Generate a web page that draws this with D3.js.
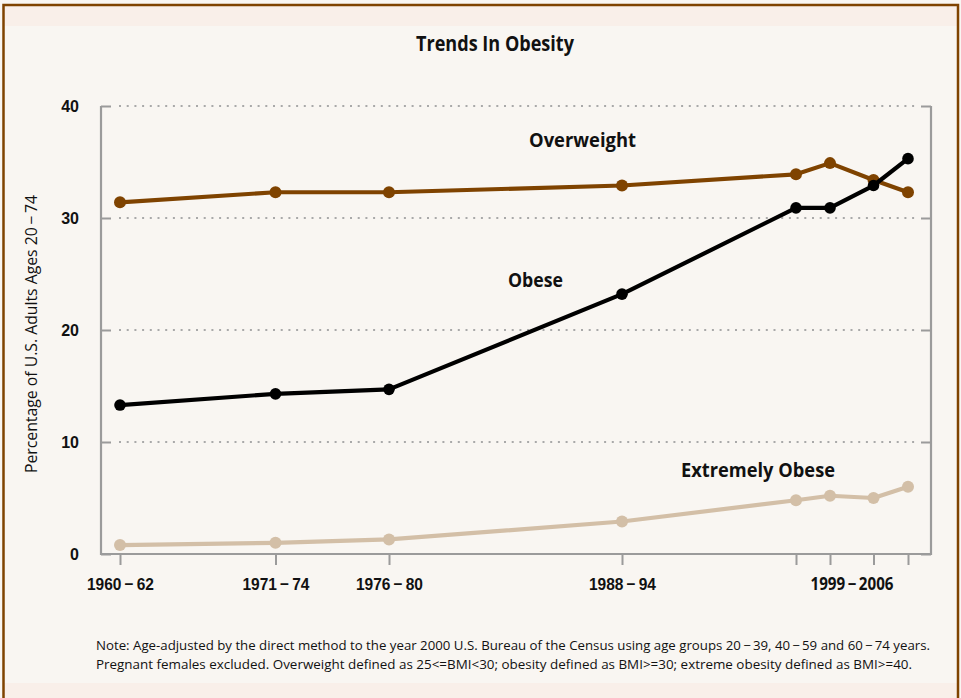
<!DOCTYPE html>
<html>
<head>
<meta charset="utf-8">
<script src="https://cdn.jsdelivr.net/npm/d3@7"></script>
<style>
  body { margin: 0; background: #fff; }
  svg { display: block; font-family: "Open Sans", "Noto Sans", sans-serif; }
</style>
</head>
<body>
<svg id="chart" width="961" height="698"></svg>
<script>
// survey periods (NHANES) and values
var surveys = ["1960-62", "1971-74", "1976-80", "1988-94", "1999-2000", "2001-02", "2003-04", "2005-06"];
var overweight = [31.4, 32.3, 32.3, 32.9, 33.9, 34.9, 33.4, 32.3];
var obese = [13.3, 14.3, 14.7, 23.2, 30.9, 30.9, 32.9, 35.3];
var extremelyObese = [0.8, 1.0, 1.3, 2.9, 4.8, 5.2, 5.0, 6.0];
var tickLabels = ["1960\u2009\u2212\u200962", "1971\u2009\u2212\u200974", "1976\u2009\u2212\u200980", "1988\u2009\u2212\u200994", "", "", "", ""];
var groupLabel = "1999\u2009\u2212\u20092006";
var yTicks = [0, 10, 20, 30, 40];

function draw() {
    var svg = d3.select("#chart");
    var W = 961, H = 698;
    var mLeft = 101, mRight = 931, mTop = 106, mBottom = 554;

    // background + frame
    svg.append("rect").attr("x", 0).attr("y", 0).attr("width", W).attr("height", H).attr("fill", "#f9f6f2");
    svg.append("rect").attr("x", 4).attr("y", 6).attr("width", 954).attr("height", 20).attr("fill", "#f9efe9");
    svg.append("rect").attr("x", 4).attr("y", 683).attr("width", 954).attr("height", 20).attr("fill", "#f9efe9");
    svg.append("rect")
        .attr("x", 3.5).attr("y", 5)
        .attr("width", 954.5).attr("height", 720)
        .attr("fill", "none")
        .attr("stroke", "#7f4300")
        .attr("stroke-width", 2.5);

    // uneven spacing of survey periods, as on the original
    var x = d3.scaleOrdinal()
        .domain(surveys)
        .range([120, 275.5, 389, 622, 796, 830, 873.5, 908]);

    var y = d3.scaleLinear().domain([0, 40]).range([mBottom, mTop]);

    var axisColor = "#9b9b9b";

    // dotted gridlines
    svg.append("g").selectAll("line")
        .data(yTicks.filter(function(d) { return d > 0; }))
        .enter().append("line")
        .attr("x1", mLeft + 18).attr("x2", mRight - 16)
        .attr("y1", function(d) { return y(d); })
        .attr("y2", function(d) { return y(d); })
        .attr("stroke", "#a9a9a9")
        .attr("stroke-width", 2)
        .attr("stroke-dasharray", "2,5.7");

    // left axis
    var yAxis = svg.append("g")
        .attr("transform", "translate(" + mLeft + ",0)")
        .call(d3.axisLeft(y).tickValues(yTicks).tickSize(-10).tickPadding(22));
    yAxis.select(".domain").remove();
    yAxis.selectAll(".tick line").attr("stroke", axisColor).attr("stroke-width", 2);
    yAxis.selectAll(".tick text")
        .attr("fill", "#111")
        .style("font-size", "16px")
        .style("font-weight", "700")
        .attr("dy", "0.36em");

    // right axis ticks
    var yAxisR = svg.append("g")
        .attr("transform", "translate(" + mRight + ",0)")
        .call(d3.axisRight(y).tickValues(yTicks).tickSize(-10).tickFormat(""));
    yAxisR.select(".domain").remove();
    yAxisR.selectAll(".tick line").attr("stroke", axisColor).attr("stroke-width", 2);

    // axis frame (left, bottom, right)
    svg.append("path")
        .attr("d", "M" + mLeft + "," + mTop + "V" + mBottom + "H" + mRight + "V" + mTop)
        .attr("fill", "none")
        .attr("stroke", axisColor)
        .attr("stroke-width", 2.2);

    // bottom axis
    var xAxis = svg.append("g")
        .attr("transform", "translate(0," + mBottom + ")")
        .call(d3.axisBottom(x).tickSize(11).tickPadding(13)
            .tickFormat(function(d, i) { return tickLabels[i]; }));
    xAxis.select(".domain").remove();
    xAxis.selectAll(".tick line").attr("stroke", axisColor).attr("stroke-width", 2);
    xAxis.selectAll(".tick text")
        .attr("fill", "#111")
        .style("font-size", "17px")
        .style("font-weight", "700")
        .attr("textLength", function(d, i) { return tickLabels[i] ? 67 : null; })
        .attr("lengthAdjust", "spacingAndGlyphs");

    svg.append("text")
        .attr("x", (x(surveys[4]) + x(surveys[7])) / 2)
        .attr("y", 590)
        .attr("text-anchor", "middle")
        .attr("fill", "#111")
        .style("font-size", "17px")
        .style("font-weight", "700")
        .attr("textLength", 83)
        .attr("lengthAdjust", "spacingAndGlyphs")
        .text(groupLabel);

    // series
    var series = [
        { name: "Extremely Obese", values: extremelyObese, color: "#d3bfa7", r: 6 },
        { name: "Overweight", values: overweight, color: "#7f4300", r: 6 },
        { name: "Obese", values: obese, color: "#000000", r: 5.8 }
    ];

    var line = d3.line()
        .x(function(d, i) { return x(surveys[i]); })
        .y(function(d) { return y(d); });

    series.forEach(function(s) {
        svg.append("path")
            .datum(s.values)
            .attr("d", line)
            .attr("fill", "none")
            .attr("stroke", s.color)
            .attr("stroke-width", 4.2)
            .attr("stroke-linejoin", "round");

        svg.append("g").selectAll("circle")
            .data(s.values)
            .enter().append("circle")
            .attr("cx", function(d, i) { return x(surveys[i]); })
            .attr("cy", function(d) { return y(d); })
            .attr("r", s.r)
            .attr("fill", s.color);
    });

    // text helper: squeeze text to the width it has on the original
    function label(txt, px, py, size, weight, width, rotate, anchor) {
        var t = svg.append("text")
            .attr("x", px).attr("y", py)
            .attr("text-anchor", anchor || "middle")
            .attr("fill", "#111")
            .style("font-size", size + "px")
            .style("font-weight", weight)
            .text(txt);
        if (width) t.attr("textLength", width).attr("lengthAdjust", "spacingAndGlyphs");
        if (rotate) t.attr("transform", "rotate(-90," + px + "," + py + ")");
        return t;
    }

    label("Trends In Obesity", 495, 51, 21, 700, 158);
    label("Overweight", 582.5, 147, 20, 700, 107);
    label("Obese", 535.5, 287, 20, 700, 55);
    label("Extremely Obese", 758, 477, 20, 700, 154);
    label("Percentage of U.S. Adults Ages 20\u2009\u2212\u200974", 37, 334, 16, 500, 278, true);

    var note1 = "Note: Age-adjusted by the direct method to the year 2000 U.S. Bureau of the Census using age groups 20\u2009\u2212\u200939, 40\u2009\u2212\u200959 and 60\u2009\u2212\u200974 years.";
    var note2 = "Pregnant females excluded. Overweight defined as 25<=BMI<30; obesity defined as BMI>=30; extreme obesity defined as BMI>=40.";
    label(note1, 96, 650, 13, 400, 834, false, "start");
    label(note2, 96, 669, 13, 400, 816, false, "start");
}

draw();
</script>
</body>
</html>
